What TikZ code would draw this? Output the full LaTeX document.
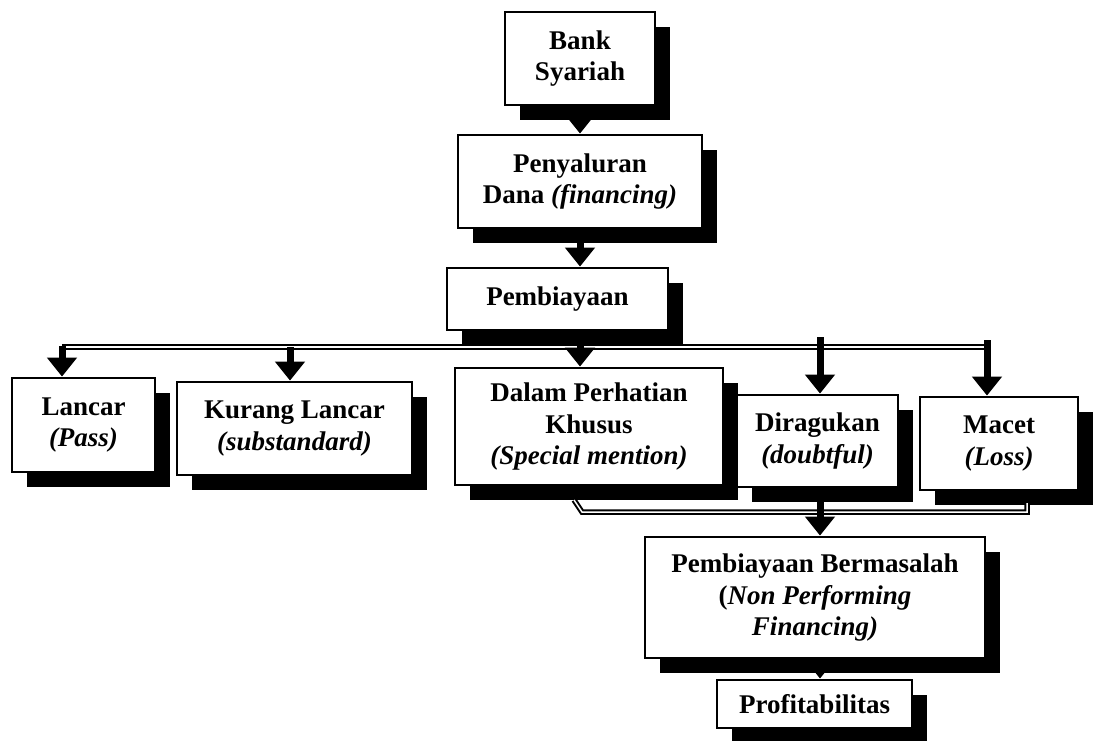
\documentclass[tikz,border=0pt]{standalone}
\usepackage{fontspec}
\setmainfont{Liberation Serif}
\usetikzlibrary{arrows.meta,shadows}
\begin{document}
\begin{tikzpicture}[x=1pt,y=-1pt,
  box/.style={draw=black, line width=2.8pt, fill=white, align=center,
    font=\fontsize{27}{31.5}\selectfont\bfseries, inner sep=0pt,
    drop shadow={shadow xshift=15pt, shadow yshift=-15pt, opacity=1, fill=black}},
  arr/.style={line width=7pt, -{Triangle[width=29pt,length=19pt]}},
  bus/.style={line width=2pt, double=white, double distance=1.5pt}]
\useasboundingbox (0,0) rectangle (1093,740);
\fill[white] (0,0) rectangle (1093,740);

\node[box, minimum width=150pt, minimum height=93pt] (bank) at (580,58.5) {Bank\\Syariah};
\node[box, minimum width=244pt, minimum height=93pt] (peny) at (580,181.5) {Penyaluran\\Dana \textit{(financing)}};
\node[box, minimum width=221pt, minimum height=62pt] (pemb) at (557.5,299) {Pembiayaan};
\node[box, minimum width=143pt, minimum height=94pt] (lancar) at (83.5,425) {Lancar\\\textit{(Pass)}};
\node[box, minimum width=235pt, minimum height=93pt] (kurang) at (294.5,428.5) {Kurang Lancar\\\textit{(substandard)}};
\node[box, minimum width=268pt, minimum height=117pt] (dalam) at (589,426.5) {Dalam Perhatian\\Khusus\\\textit{(Special mention)}};
\node[box, minimum width=161pt, minimum height=92pt] (dirag) at (817.5,441) {Diragukan\\\textit{(doubtful)}};
\node[box, minimum width=158pt, minimum height=93pt] (macet) at (999,443.5) {Macet\\\textit{(Loss)}};
\node[box, minimum width=340pt, minimum height=121pt] (pb) at (815,597.5) {Pembiayaan Bermasalah\\(\textit{Non Performing}\\\textit{Financing)}};
\node[box, minimum width=195pt, minimum height=48pt] (profit) at (814.5,704) {Profitabilitas};

\coordinate (xa) at (580,0);
\coordinate (xl) at (62,0);
\coordinate (xk) at (290,0);
\coordinate (xd) at (820,0);
\coordinate (xm) at (987,0);
\coordinate (busL) at (62,347);
\coordinate (busR) at (987,347);
\coordinate (lbL) at (574,500);
\coordinate (lbM) at (582,512);
\coordinate (lbR) at (1027,512);
\coordinate (lbE) at (1027,503);

% upper bus
\draw[bus] (busL) -- (busR);
% lower bus
\draw[bus] (lbL) -- (lbM) -- (lbR) -- (lbE);

% arrows
\draw[arr] ([yshift=-10pt]bank.south) -- (peny.north -| xa);
\draw[arr] ([yshift=-12pt]peny.south -| xa) -- (pemb.north -| xa);
\draw[arr] ([yshift=-14pt]pemb.south -| xa) -- (dalam.north -| xa);
\draw[arr] ([yshift=1pt]busL) -- (lancar.north -| xl);
\draw[arr] (busL -| xk) -- (kurang.north -| xk);
\draw[arr] ([yshift=10pt]busL -| xd) -- (dirag.north -| xd);
\draw[arr] ([yshift=7pt]busR) -- (macet.north -| xm);
\draw[arr] ([yshift=-14pt]dirag.south -| xd) -- (pb.north -| xd);
\draw[arr] ([yshift=-14pt]pb.south -| xd) -- (profit.north -| xd);
\end{tikzpicture}
\end{document}
